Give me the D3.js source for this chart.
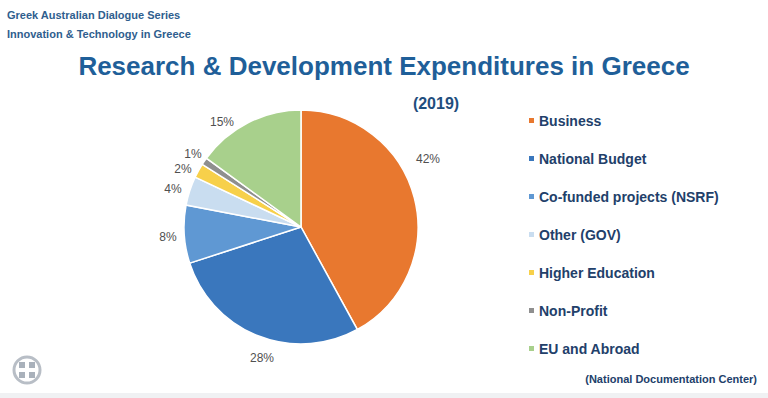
<!DOCTYPE html>
<html><head><meta charset="utf-8">
<script src="https://cdn.jsdelivr.net/npm/d3@7"></script>
<style>body{margin:0;background:#fff;}svg{display:block;font-family:"Liberation Sans",Arial,sans-serif;}</style>
</head><body>
<svg id="c" width="768" height="398"></svg>
<script>
const categories = ["Business","National Budget","Co-funded projects (NSRF)","Other (GOV)","Higher Education","Non-Profit","EU and Abroad"];
const values = [42,28,8,4,2,1,15];
const labels = ["42%","28%","8%","4%","2%","1%","15%"];
const colors = ["#e8782f","#3a77bd","#5f98d3","#c9ddf0","#f7d04a","#8f8f8f","#a8d08c"];

const svg = d3.select("#c");
svg.append("rect").attr("width",768).attr("height",398).attr("fill","#fff");

svg.append("text").attr("x",7).attr("y",19).attr("font-size",11).attr("font-weight","bold").attr("fill","#2f5e8e").text("Greek Australian Dialogue Series");
svg.append("text").attr("x",7).attr("y",38).attr("font-size",11).attr("font-weight","bold").attr("fill","#2f5e8e").text("Innovation & Technology in Greece");
svg.append("text").attr("x",384).attr("y",75).attr("text-anchor","middle").attr("font-size",26).attr("font-weight","bold").attr("fill","#1f5f99").text("Research & Development Expenditures in Greece");
svg.append("text").attr("x",436).attr("y",109).attr("text-anchor","middle").attr("font-size",16).attr("font-weight","bold").attr("fill","#1f4e7e").text("(2019)");

const cx=301, cy=227, r=117;
const pie = d3.pie().sort(null).value(d=>d);
const arcs = pie(values);
const arc = d3.arc().innerRadius(0).outerRadius(r);
const g = svg.append("g").attr("transform",`translate(${cx},${cy})`);
g.selectAll("path").data(arcs).join("path").attr("d",arc).attr("fill",(d,i)=>colors[i]).attr("stroke","#fff").attr("stroke-width",1.5);

const lblPos = [[428,163],[262,362],[168,241],[173,193],[183,173],[193,158],[222,126]];
svg.selectAll("text.pl").data(labels).join("text").attr("class","pl")
  .attr("x",(d,i)=>lblPos[i][0]).attr("y",(d,i)=>lblPos[i][1]).attr("text-anchor","middle")
  .attr("font-size",12).attr("fill","#505050").text(d=>d);

const ly = d3.scalePoint().domain(categories).range([121,349]);
const lg = svg.append("g");
lg.selectAll("rect").data(categories).join("rect")
  .attr("x",529).attr("y",d=>ly(d)-3).attr("width",5).attr("height",5).attr("fill",(d,i)=>colors[i]);
lg.selectAll("text").data(categories).join("text")
  .attr("x",539).attr("y",d=>ly(d)+5).attr("font-size",14).attr("font-weight","bold").attr("fill","#22406a").text(d=>d);

svg.append("text").attr("x",757).attr("y",383).attr("text-anchor","end").attr("font-size",11).attr("font-weight","bold").attr("fill","#22406a").text("(National Documentation Center)");

// emblem
const e = svg.append("g").attr("transform","translate(27,370)");
e.append("circle").attr("r",13).attr("fill","none").attr("stroke","#b8bec6").attr("stroke-width",3);
e.append("rect").attr("x",-8).attr("y",-8).attr("width",16).attr("height",16).attr("fill","#a9b1bb");
e.append("rect").attr("x",-2).attr("y",-8).attr("width",4).attr("height",16).attr("fill","#fff");
e.append("rect").attr("x",-8).attr("y",-2).attr("width",16).attr("height",4).attr("fill","#fff");
svg.append("rect").attr("x",0).attr("y",393).attr("width",768).attr("height",5).attr("fill","#f0f1f3");
</script>
</body></html>
